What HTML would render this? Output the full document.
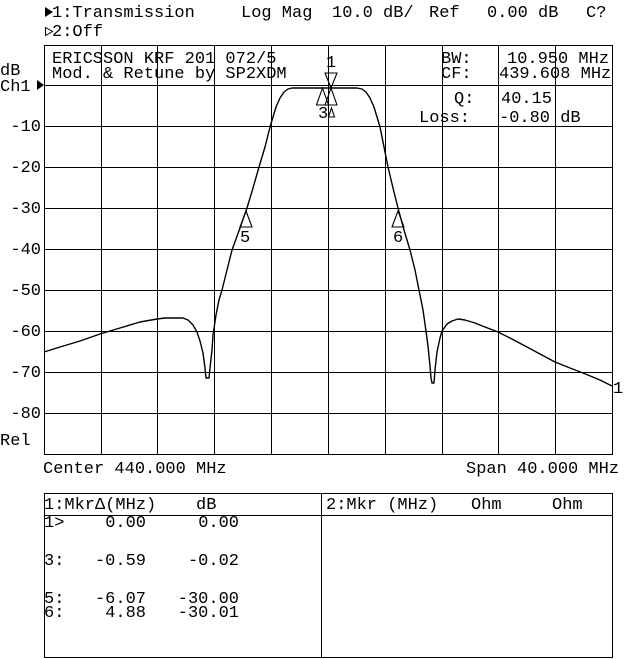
<!DOCTYPE html>
<html>
<head>
<meta charset="utf-8">
<style>
  html, body { margin:0; padding:0; background:#fff; }
  body { width:640px; height:659px; overflow:hidden; }
  svg { display:block; }
  text { font-family: "Liberation Mono", "DejaVu Sans Mono", monospace; font-size:17px; fill:#000; }
</style>
</head>
<body>
<svg width="640" height="659" viewBox="0 0 640 659" xmlns="http://www.w3.org/2000/svg">
  <rect x="0" y="0" width="640" height="659" fill="#fff"/>

  <!-- Header rows -->
  <polygon points="45,7 53,12 45,17" fill="#000"/>
  <text x="52" y="17">1:Transmission</text>
  <text x="241" y="17">Log Mag</text>
  <text x="332" y="17">10.0 dB/</text>
  <text x="429" y="17">Ref</text>
  <text x="487" y="17">0.00 dB</text>
  <text x="586" y="17">C?</text>
  <polygon points="45.5,27.5 52.5,31.5 45.5,35.5" fill="none" stroke="#000" stroke-width="1"/>
  <text x="52" y="36">2:Off</text>

  <!-- Left axis labels -->
  <text x="0" y="75">dB</text>
  <text x="0" y="91">Ch1</text>
  <polygon points="37,80 44,85 37,90" fill="#000"/>
  <g text-anchor="end">
    <text x="41" y="131">-10</text>
    <text x="41" y="172">-20</text>
    <text x="41" y="213">-30</text>
    <text x="41" y="254">-40</text>
    <text x="41" y="295">-50</text>
    <text x="41" y="336">-60</text>
    <text x="41" y="377">-70</text>
    <text x="41" y="418">-80</text>
  </g>
  <text x="0" y="445">Rel</text>

  <!-- Graticule -->
  <g stroke="#000" stroke-width="1" shape-rendering="crispEdges" fill="none">
    <rect x="44.5" y="45.5" width="568" height="409"/>
    <line x1="101.5" y1="45" x2="101.5" y2="454"/>
    <line x1="157.5" y1="45" x2="157.5" y2="454"/>
    <line x1="214.5" y1="45" x2="214.5" y2="454"/>
    <line x1="271.5" y1="45" x2="271.5" y2="454"/>
    <line x1="328.5" y1="45" x2="328.5" y2="454"/>
    <line x1="385.5" y1="45" x2="385.5" y2="454"/>
    <line x1="442.5" y1="45" x2="442.5" y2="454"/>
    <line x1="498.5" y1="45" x2="498.5" y2="454"/>
    <line x1="555.5" y1="45" x2="555.5" y2="454"/>
    <line x1="44" y1="85.5" x2="612" y2="85.5"/>
    <line x1="44" y1="126.5" x2="612" y2="126.5"/>
    <line x1="44" y1="167.5" x2="612" y2="167.5"/>
    <line x1="44" y1="208.5" x2="612" y2="208.5"/>
    <line x1="44" y1="249.5" x2="612" y2="249.5"/>
    <line x1="44" y1="290.5" x2="612" y2="290.5"/>
    <line x1="44" y1="331.5" x2="612" y2="331.5"/>
    <line x1="44" y1="372.5" x2="612" y2="372.5"/>
    <line x1="44" y1="413.5" x2="612" y2="413.5"/>
  </g>

  <!-- Annotation text inside graticule -->
  <text x="52" y="63">ERICSSON KRF 201 072/5</text>
  <text x="52" y="78">Mod. &amp; Retune by SP2XDM</text>
  <text x="441" y="63">BW:</text>
  <text x="507" y="63">10.950 MHz</text>
  <text x="441" y="78">CF:</text>
  <text x="499" y="78">439.608 MHz</text>
  <text x="454" y="103">Q:</text>
  <text x="501" y="103">40.15</text>
  <text x="419" y="122">Loss:</text>
  <text x="499" y="122">-0.80 dB</text>

  <!-- Trace -->
  <polyline fill="none" stroke="#000" stroke-width="1.4" stroke-linejoin="round" points="
    44,352 60,347 80,341 100,334 120,328 140,322 157,319 165,318 183,318 188,320 193,325 197,332 200,341 203,353 205,368 206,378 209,378 210,368 212,350 213,335 216,315 219,300 222,290 227,270 232,250 240,228 247,208 253,188 259,167 265,147 270,127 273,117 276,107 280,98 284,92 288,89 292,88 300,88 357,88 362,89 366,92 370,98 374,107 377,117 380,127 384,147 388,167 393,188 398,208 404,230 410,250 415,270 419,290 423,310 426,331 428,346 430,366 431,378 432,383 434,383 435,370 437,352 440,338 442,331 447,324 452,321 458,319 465,320 475,323 485,327 498,332 510,338 527,347 540,354 555,362 570,368 583,373 600,380 612,386"/>

  <!-- Markers -->
  <g fill="none" stroke="#000" stroke-width="1.1">
    <polygon points="325,73 337,73 331,88"/>
    <polygon points="325,105 337,105 331,88"/>
    <polygon points="316.5,105 328.5,105 322.5,88"/>
    <polygon points="240,227 252,227 246,211"/>
    <polygon points="392,227 404,227 398,211"/>
    <polygon points="328.5,117 331.5,108 334.5,117"/>
  </g>
  <text x="326" y="67">1</text>
  <text x="318" y="118">3</text>
  <text x="240" y="242">5</text>
  <text x="393" y="242">6</text>
  <text x="613" y="393">1</text>

  <!-- Bottom labels -->
  <text x="43" y="473">Center 440.000 MHz</text>
  <text x="466" y="473">Span 40.000 MHz</text>

  <!-- Marker table -->
  <g stroke="#000" stroke-width="1" shape-rendering="crispEdges" fill="none">
    <rect x="44.5" y="493.5" width="568" height="164"/>
    <line x1="44" y1="515.5" x2="612" y2="515.5"/>
    <line x1="321.5" y1="493" x2="321.5" y2="657"/>
  </g>
  <text x="44" y="509">1:MkrΔ(MHz)</text>
  <text x="196" y="509">dB</text>
  <text x="326" y="509">2:Mkr (MHz)</text>
  <text x="471" y="509">Ohm</text>
  <text x="552" y="509">Ohm</text>

  <text x="44" y="527">1&gt;</text>
  <text x="44" y="565">3:</text>
  <text x="44" y="603">5:</text>
  <text x="44" y="617">6:</text>
  <g text-anchor="end">
    <text x="146" y="527">0.00</text>
    <text x="239" y="527">0.00</text>
    <text x="146" y="565">-0.59</text>
    <text x="239" y="565">-0.02</text>
    <text x="146" y="603">-6.07</text>
    <text x="239" y="603">-30.00</text>
    <text x="146" y="617">4.88</text>
    <text x="239" y="617">-30.01</text>
  </g>
</svg>
</body>
</html>
